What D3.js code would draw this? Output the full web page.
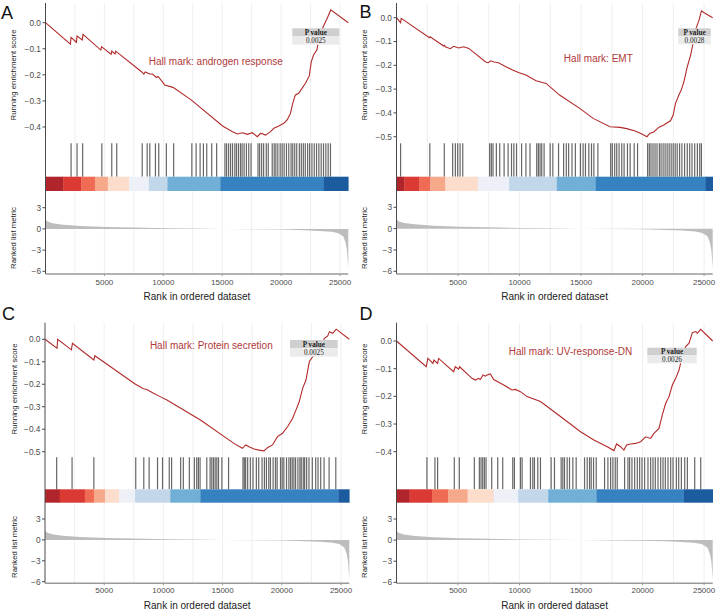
<!DOCTYPE html>
<html><head><meta charset="utf-8">
<script src="https://cdn.jsdelivr.net/npm/d3@7"></script>
<style>body{margin:0;background:#fff} svg{display:block} text{font-family:"Liberation Sans",Arial,Helvetica,sans-serif}</style>
</head><body><svg id="c" width="718" height="613"></svg>
<script>
// ---------------- DATA ----------------
const geneCount = 25700;
const panelLetters = ["A", "B", "C", "D"];
const titles = ["Hall mark: androgen response", "Hall mark: EMT", "Hall mark: Protein secretion", "Hall mark: UV-response-DN"];
const pValues = ["0.0025", "0.0028", "0.0025", "0.0026"];
const xTicks = [5000, 10000, 15000, 20000, 25000];
const gridTicks = [2500, 5000, 7500, 10000, 12500, 15000, 17500, 20000, 22500, 25000];
const metricTicks = [3, 0, -3, -6];
const esTicksA = [0, -0.1, -0.2, -0.3, -0.4];
const esTicksB = [0, -0.1, -0.2, -0.3, -0.4, -0.5];
const esTicksC = [0, -0.1, -0.2, -0.3, -0.4, -0.5];
const esTicksD = [0, -0.1, -0.2, -0.3, -0.4];

// running enrichment score [rank, score]
const esA = [[0,0],[2114,-0.082],[2170,-0.056],[2619,-0.075],[2675,-0.051],[3125,-0.066],[3181,-0.045],[4697,-0.105],[4753,-0.092],[5568,-0.121],[5624,-0.109],[5905,-0.120],[5961,-0.109],[8151,-0.188],[8348,-0.197],[8460,-0.189],[8853,-0.197],[9078,-0.197],[9415,-0.210],[9555,-0.206],[9976,-0.230],[10117,-0.239],[10819,-0.248],[12363,-0.296],[15031,-0.396],[15873,-0.418],[16294,-0.427],[16716,-0.422],[17137,-0.428],[17558,-0.422],[17979,-0.437],[18260,-0.424],[18681,-0.431],[19102,-0.418],[19383,-0.405],[19804,-0.396],[20225,-0.386],[20506,-0.373],[20787,-0.348],[20984,-0.309],[21208,-0.277],[21489,-0.271],[21770,-0.252],[22053,-0.233],[22388,-0.204],[22555,-0.150],[22752,-0.124],[23033,-0.105],[23230,-0.054],[23595,-0.013],[23876,0.013],[24213,0.049],[25700,0]];
const esB = [[0,0],[331,-0.021],[385,-0.003],[2680,-0.084],[2735,-0.080],[3828,-0.119],[3910,-0.116],[3964,-0.122],[4374,-0.130],[4647,-0.120],[5057,-0.127],[5467,-0.122],[5876,-0.129],[7243,-0.186],[7461,-0.189],[7652,-0.181],[7925,-0.186],[8280,-0.189],[9428,-0.220],[9974,-0.231],[10521,-0.241],[11341,-0.265],[12160,-0.276],[13253,-0.325],[14892,-0.381],[15985,-0.423],[17351,-0.458],[18171,-0.461],[18717,-0.466],[19400,-0.476],[19946,-0.489],[20356,-0.500],[20575,-0.486],[20903,-0.480],[21313,-0.461],[21723,-0.451],[22268,-0.433],[22487,-0.409],[22678,-0.360],[22952,-0.325],[23143,-0.304],[23362,-0.269],[23635,-0.206],[23908,-0.157],[24127,-0.101],[24318,-0.049],[24591,-0.010],[24783,0.029],[25001,0.021],[25700,0]];
const esC = [[0,0],[1014,-0.040],[1070,0],[2231,-0.047],[2315,-0.018],[4127,-0.092],[4212,-0.073],[7608,-0.199],[8315,-0.220],[8598,-0.223],[9164,-0.240],[9730,-0.255],[10296,-0.270],[10862,-0.288],[13126,-0.359],[15956,-0.463],[16664,-0.485],[16947,-0.470],[17230,-0.478],[17654,-0.488],[18079,-0.493],[18503,-0.496],[18786,-0.482],[19211,-0.470],[19635,-0.433],[20059,-0.418],[20484,-0.389],[20908,-0.352],[21192,-0.315],[21475,-0.277],[21758,-0.218],[22041,-0.181],[22324,-0.099],[22607,-0.077],[22974,-0.062],[23314,-0.033],[23597,0.004],[23880,0.015],[24022,0.034],[24305,0.027],[24588,0.045],[25700,0]];
const esD = [[0,0],[2418,-0.093],[2553,-0.063],[2960,-0.081],[3042,-0.069],[3340,-0.081],[3422,-0.063],[4643,-0.111],[4779,-0.093],[5050,-0.102],[5132,-0.093],[6136,-0.135],[6407,-0.141],[6679,-0.135],[6815,-0.139],[7032,-0.123],[7222,-0.127],[7357,-0.123],[7629,-0.119],[7900,-0.139],[8714,-0.159],[9393,-0.177],[9664,-0.175],[10071,-0.183],[10614,-0.201],[11700,-0.219],[13328,-0.273],[14956,-0.328],[16042,-0.358],[17127,-0.382],[17670,-0.396],[17888,-0.372],[18213,-0.382],[18484,-0.394],[18701,-0.376],[19027,-0.372],[19434,-0.370],[19842,-0.364],[20249,-0.346],[20656,-0.352],[20927,-0.334],[21334,-0.316],[21606,-0.267],[21877,-0.225],[22148,-0.201],[22420,-0.159],[22691,-0.135],[22962,-0.105],[23152,-0.069],[23505,-0.020],[23776,-0.008],[24047,0.030],[24319,0.034],[24454,0.028],[24725,0.042],[25700,0]];

// gene-set hit ranks
const hitsA = [2171,2676,3153,4782,5624,6046,8208,8629,8854,9331,9612,10258,10876,12420,12785,13122,13403,13684,14105,14526,15228,15368,15537,15705,15874,16070,16211,16379,16548,16688,16856,17053,17249,17446,18036,18176,18345,18513,18738,18906,19243,19412,19552,19720,19917,20086,20254,20451,20647,20844,20984,21153,21321,21546,21714,21883,22051,22248,22417,22613,22810,23006,23203,23400,23596,23793,23990,24186];
const hitsB = [331,2708,3883,4566,4784,4975,5167,5385,7571,7707,7844,8117,8390,8746,9073,9347,9538,9756,10166,10521,10849,11396,11532,11669,11805,11997,12488,12707,13171,13581,13800,13991,14264,14537,14947,15166,15357,15630,15849,16040,16368,17406,17543,17734,17898,18089,18308,18499,18772,18991,19319,19592,20411,20548,20684,20848,21012,21176,21367,21504,21668,21832,21996,22160,22324,22488,22652,22815,23007,23198,23416,23635,23827,24018,24236,24455,24646,24782];
const hitsC = [985,2286,4126,7663,8343,8795,9503,9927,10493,10692,11456,11682,12191,12616,12814,12956,13097,13663,13946,14088,14229,14371,14512,14654,14937,15503,16719,16833,16946,17116,17342,17568,17851,18050,18333,18531,18700,18899,19040,19266,19465,19606,19889,20031,20172,20398,20597,20738,20880,21021,21163,21361,21530,21644,21813,21927,22096,22295,22578,22861,23059,23285,23568,23993,24559];
const hitsD = [2473,3124,3341,4698,5105,6327,6734,6870,7005,7141,7277,7738,8227,8634,9448,9583,10072,10208,10886,11076,11212,11483,11700,12569,12840,13383,13519,13654,13871,14062,14333,14604,15283,15500,15690,15826,16016,16233,16911,17183,17400,17590,17780,17942,18540,18811,18947,19137,19354,19571,19761,19951,20168,20439,20657,20847,21036,21254,21471,21661,21851,22068,22285,22475,22746,22936,23154,23425,23642,24239,24728];

// colour-bar segment breaks (ranks)
const barA = [0,1500,3040,4195,5290,7110,8770,10345,14835,23600,25700];
const barB = [0,630,1860,2740,3970,6615,9155,13030,16200,25140,25700];
const barC = [0,1240,3360,4125,5060,6250,7605,10575,13120,24780,25700];
const barD = [0,1060,2880,4185,5780,7900,9885,12330,16260,23370,25700];
const barColors = ["#b0242b","#da3a33","#ef6b54","#f6a88b","#fcdccb","#eef0f8","#c2d8ea","#72afd7","#3681bf","#1b5b9e"];

// ranked list metric
const metricRanks = [0,150,600,1500,3000,5200,7500,10250,12500,15000,17500,20000,22000,23200,24300,24850,25280,25480,25600,25700];
const metricValues = [1.4,1.05,0.8,0.6,0.42,0.28,0.19,0.09,0.04,0.0,-0.05,-0.1,-0.18,-0.28,-0.42,-0.6,-1.08,-2.0,-3.2,-5.6];

// ---------------- LAYOUT ----------------
const panels = [
  {es: esA, esTicks: esTicksA, hits: hitsA, bar: barA, x0: 45.5, x1: 348.3, esTop: 3, esBottom: 141, esY: [22.7, 127], esRef: -0.4,
   hitTop: 143.3, hitBottom: 176.7, barBottom: 191, metY: [207.7, 271.3], axisBottom: 274, xLabelY: 282, xTitleY: 296,
   yTitleX: 13.5, esTitleY: 75, metTitleY: 238, letter: [1, 18.5], title: [215.8, 61], pbox: [292.3, 28.3, 339.3, 36, 44.7]},
  {es: esB, esTicks: esTicksB, hits: hitsB, bar: barB, x0: 396.5, x1: 712.7, esTop: 3, esBottom: 141, esY: [17.7, 136.7], esRef: -0.5,
   hitTop: 143.3, hitBottom: 176.7, barBottom: 191, metY: [207.3, 271.3], axisBottom: 274, xLabelY: 282, xTitleY: 296,
   yTitleX: 364, esTitleY: 75, metTitleY: 238, letter: [359.5, 17.5], title: [598.3, 58.3], pbox: [678.3, 28.3, 710.7, 36, 44.3]},
  {es: esC, esTicks: esTicksC, hits: hitsC, bar: barC, x0: 45, x1: 349.3, esTop: 322.7, esBottom: 455, esY: [339.3, 451.7], esRef: -0.5,
   hitTop: 457.3, hitBottom: 489.3, barBottom: 502.7, metY: [519, 581.7], axisBottom: 583.3, xLabelY: 590.5, xTitleY: 605.7,
   yTitleX: 14, esTitleY: 389, metTitleY: 547, letter: [2, 320], title: [211.3, 345], pbox: [290, 340, 337.7, 348.3, 356.7]},
  {es: esD, esTicks: esTicksD, hits: hitsD, bar: barD, x0: 396.5, x1: 712.7, esTop: 322.7, esBottom: 455, esY: [341, 451.7], esRef: -0.4,
   hitTop: 457.3, hitBottom: 489.3, barBottom: 502.7, metY: [519, 582.3], axisBottom: 583.3, xLabelY: 590.5, xTitleY: 605.7,
   yTitleX: 364, esTitleY: 389, metTitleY: 547, letter: [359.5, 319.5], title: [570.5, 351.7], pbox: [647.3, 347.7, 696.7, 355, 363.3]}
];

const svg = d3.select("#c");
const fmtES = v => (v === 0 ? "0.0" : d3.format(".1f")(v).replace("-", "\u2212"));
const fmtM = v => String(v).replace("-", "\u2212");
const metricData = metricRanks.map((r, i) => [r, metricValues[i]]);

panels.forEach((p, i) => {
  const g = svg.append("g");
  const x = d3.scaleLinear().domain([0, geneCount]).range([p.x0, p.x1]);
  const yES = d3.scaleLinear().domain([0, p.esRef]).range(p.esY);
  const yM = d3.scaleLinear().domain([3, -6]).range(p.metY);

  // grid lines
  g.selectAll(".grid").data(gridTicks).join("line")
    .attr("x1", d => x(d)).attr("x2", d => x(d))
    .attr("y1", p.esTop).attr("y2", p.axisBottom)
    .attr("stroke", "#ebebeb").attr("stroke-width", 0.8);

  // ES curve
  g.append("path").datum(p.es)
    .attr("d", d3.line().x(d => x(d[0])).y(d => yES(d[1])))
    .attr("fill", "none").attr("stroke", "#b22a2a").attr("stroke-width", 1.1);

  // hits
  g.selectAll(".hit").data(p.hits).join("line")
    .attr("x1", d => x(d)).attr("x2", d => x(d))
    .attr("y1", p.hitTop).attr("y2", p.hitBottom)
    .attr("stroke", "#000").attr("stroke-opacity", 0.6).attr("stroke-width", 1.2);

  // colour bar
  const segs = d3.range(barColors.length).map(k => [p.bar[k], p.bar[k + 1], barColors[k]]);
  g.selectAll(".seg").data(segs).join("rect")
    .attr("x", d => x(d[0])).attr("width", d => x(d[1]) - x(d[0]) + 0.3)
    .attr("y", p.hitBottom).attr("height", p.barBottom - p.hitBottom)
    .attr("fill", d => d[2]);

  // ranked metric area
  g.append("path").datum(metricData)
    .attr("d", d3.area().x(d => x(d[0])).y0(yM(0)).y1(d => yM(d[1])))
    .attr("fill", "#bdbdbd");

  // axes lines
  g.append("line").attr("x1", p.x0).attr("x2", p.x0).attr("y1", p.esTop).attr("y2", p.axisBottom)
    .attr("stroke", "#4a4a4a").attr("stroke-width", 1);
  g.append("line").attr("x1", p.x0).attr("x2", p.x1).attr("y1", p.axisBottom).attr("y2", p.axisBottom)
    .attr("stroke", "#9a9a9a").attr("stroke-width", 1.4);

  // ES y ticks
  const et = g.selectAll(".et").data(p.esTicks).join("g").attr("transform", d => `translate(0,${yES(d)})`);
  et.append("line").attr("x1", p.x0 - 3).attr("x2", p.x0).attr("stroke", "#4a4a4a");
  et.append("text").attr("x", p.x0 - 4.5).attr("dy", "0.35em").attr("text-anchor", "end")
    .attr("font-size", 8.3).attr("fill", "#4d4d4d").text(fmtES);

  // metric ticks
  const mt = g.selectAll(".mt").data(metricTicks).join("g").attr("transform", d => `translate(0,${yM(d)})`);
  mt.append("line").attr("x1", p.x0 - 3).attr("x2", p.x0).attr("stroke", "#4a4a4a");
  mt.append("text").attr("x", p.x0 - 4.5).attr("dy", "0.35em").attr("text-anchor", "end")
    .attr("font-size", 8.3).attr("fill", "#4d4d4d").text(fmtM);

  // x ticks
  const xt = g.selectAll(".xt").data(xTicks).join("g").attr("transform", d => `translate(${x(d)},0)`);
  xt.append("line").attr("y1", p.axisBottom).attr("y2", p.axisBottom + 2).attr("stroke", "#9a9a9a");
  xt.append("text").attr("y", p.xLabelY).attr("dy", "0.35em").attr("text-anchor", "middle")
    .attr("font-size", 8).attr("fill", "#4d4d4d").text(d => d);

  // axis titles
  g.append("text").attr("x", (p.x0 + p.x1) / 2).attr("y", p.xTitleY).attr("dy", "0.35em")
    .attr("text-anchor", "middle").attr("font-size", 10).attr("fill", "#222").text("Rank in ordered dataset");
  g.append("text").attr("transform", `translate(${p.yTitleX},${p.esTitleY}) rotate(-90)`).attr("dy", "0.35em")
    .attr("text-anchor", "middle").attr("font-size", 7.8).attr("fill", "#222").text("Running enrichment score");
  g.append("text").attr("transform", `translate(${p.yTitleX},${p.metTitleY}) rotate(-90)`).attr("dy", "0.35em")
    .attr("text-anchor", "middle").attr("font-size", 7.8).attr("fill", "#222").text("Ranked list metric");

  // panel title
  g.append("text").attr("x", p.title[0]).attr("y", p.title[1]).attr("dy", "0.35em")
    .attr("text-anchor", "middle").attr("font-size", 10).attr("fill", "#b0393a").text(titles[i]);

  // panel letter
  g.append("text").attr("x", p.letter[0]).attr("y", p.letter[1])
    .attr("font-size", 18).attr("fill", "#111").text(panelLetters[i]);

  // p-value box
  const [bx0, by0, bx1, by1, by2] = p.pbox;
  g.append("rect").attr("x", bx0).attr("y", by0).attr("width", bx1 - bx0).attr("height", by1 - by0).attr("fill", "#cfcfcf");
  g.append("rect").attr("x", bx0).attr("y", by1).attr("width", bx1 - bx0).attr("height", by2 - by1).attr("fill", "#ebebeb");
  g.append("text").attr("x", (bx0 + bx1) / 2).attr("y", (by0 + by1) / 2).attr("dy", "0.35em")
    .attr("text-anchor", "middle").attr("font-size", 7.2).attr("font-weight", "bold")
    .style("font-family", "'Liberation Serif','Times New Roman',serif").attr("fill", "#222").text("P value");
  g.append("text").attr("x", (bx0 + bx1) / 2).attr("y", (by1 + by2) / 2).attr("dy", "0.35em")
    .attr("text-anchor", "middle").attr("font-size", 7.2)
    .style("font-family", "'Liberation Serif','Times New Roman',serif").attr("fill", "#222").text(pValues[i]);
});
</script>
</body></html>
